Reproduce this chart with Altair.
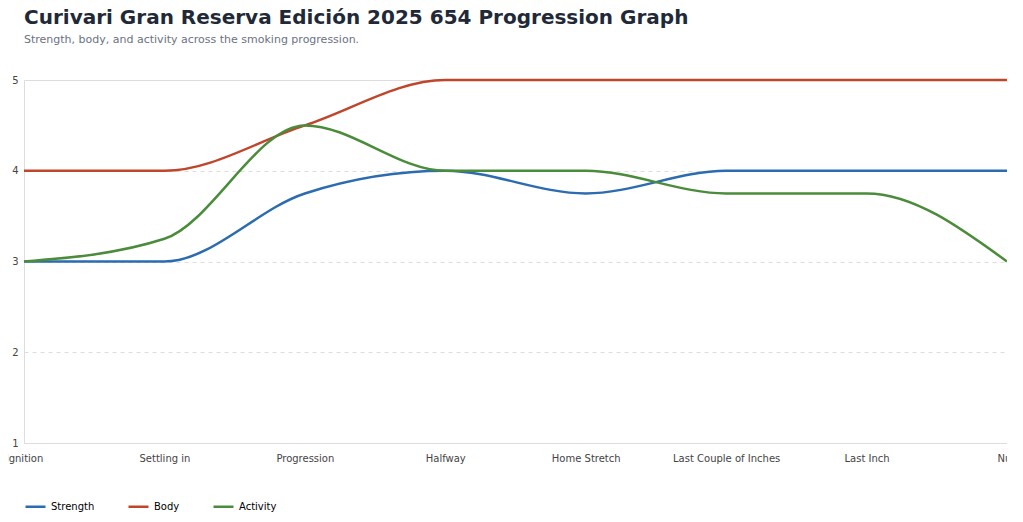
import altair as alt
import pandas as pd

stages = ["Ignition", "Settling in", "Progression", "Halfway", "Home Stretch",
          "Last Couple of Inches", "Last Inch", "Nub"]
strength = [3, 3, 3.75, 4, 3.75, 4, 4, 4]
body = [4, 4, 4.5, 5, 5, 5, 5, 5]
activity = [3, 3.25, 4.5, 4, 4, 3.75, 3.75, 3]

rows = []
for name, vals in [("Strength", strength), ("Body", body), ("Activity", activity)]:
    for s, v in zip(stages, vals):
        rows.append({"Stage": s, "Value": v, "Measure": name})
df = pd.DataFrame(rows)

chart = (
    alt.Chart(df)
    .mark_line(interpolate="monotone", strokeWidth=2.5)
    .encode(
        x=alt.X("Stage:N", sort=stages, title=None,
                scale=alt.Scale(type="point", padding=0),
                axis=alt.Axis(labelAngle=0, grid=False, domain=False, ticks=False,
                              labelPadding=10, labelColor="#444", labelFontSize=10)),
        y=alt.Y("Value:Q", title=None, scale=alt.Scale(domain=[1, 5], nice=False),
                axis=alt.Axis(values=[1, 2, 3, 4, 5], domain=False, ticks=False,
                              labelPadding=6, labelColor="#444", labelFontSize=10,
                              gridDash=[4, 4], gridColor="#dddddd")),
        color=alt.Color("Measure:N", sort=["Strength", "Body", "Activity"],
                        scale=alt.Scale(domain=["Strength", "Body", "Activity"],
                                        range=["#2b6cb0", "#c0462b", "#4a8c3a"]),
                        legend=alt.Legend(orient="bottom", direction="horizontal", title=None,
                                          symbolType="stroke", symbolStrokeWidth=2.5,
                                          symbolSize=400, labelFontSize=10, offset=32,
                                          columnPadding=28)),
    )
    .properties(
        width=983, height=363,
        autosize=alt.AutoSizeParams(type="none"),
        padding={"left": 16, "top": 72, "right": 0, "bottom": 70},
        title=alt.TitleParams(
            "Curivari Gran Reserva Edición 2025 654 Progression Graph",
            subtitle="Strength, body, and activity across the smoking progression.",
            anchor="start", frame="group", fontSize=20, fontWeight="bold", color="#1f2937",
            subtitleFontSize=11, subtitleColor="#6b7280", subtitlePadding=6, offset=30,
        ),
    )
    .configure_view(stroke=None)
    .configure_axis(domain=False)
    .configure(font="DejaVu Sans")
)

chart.save("out.html", embed_options={"renderer": "svg", "actions": False})
